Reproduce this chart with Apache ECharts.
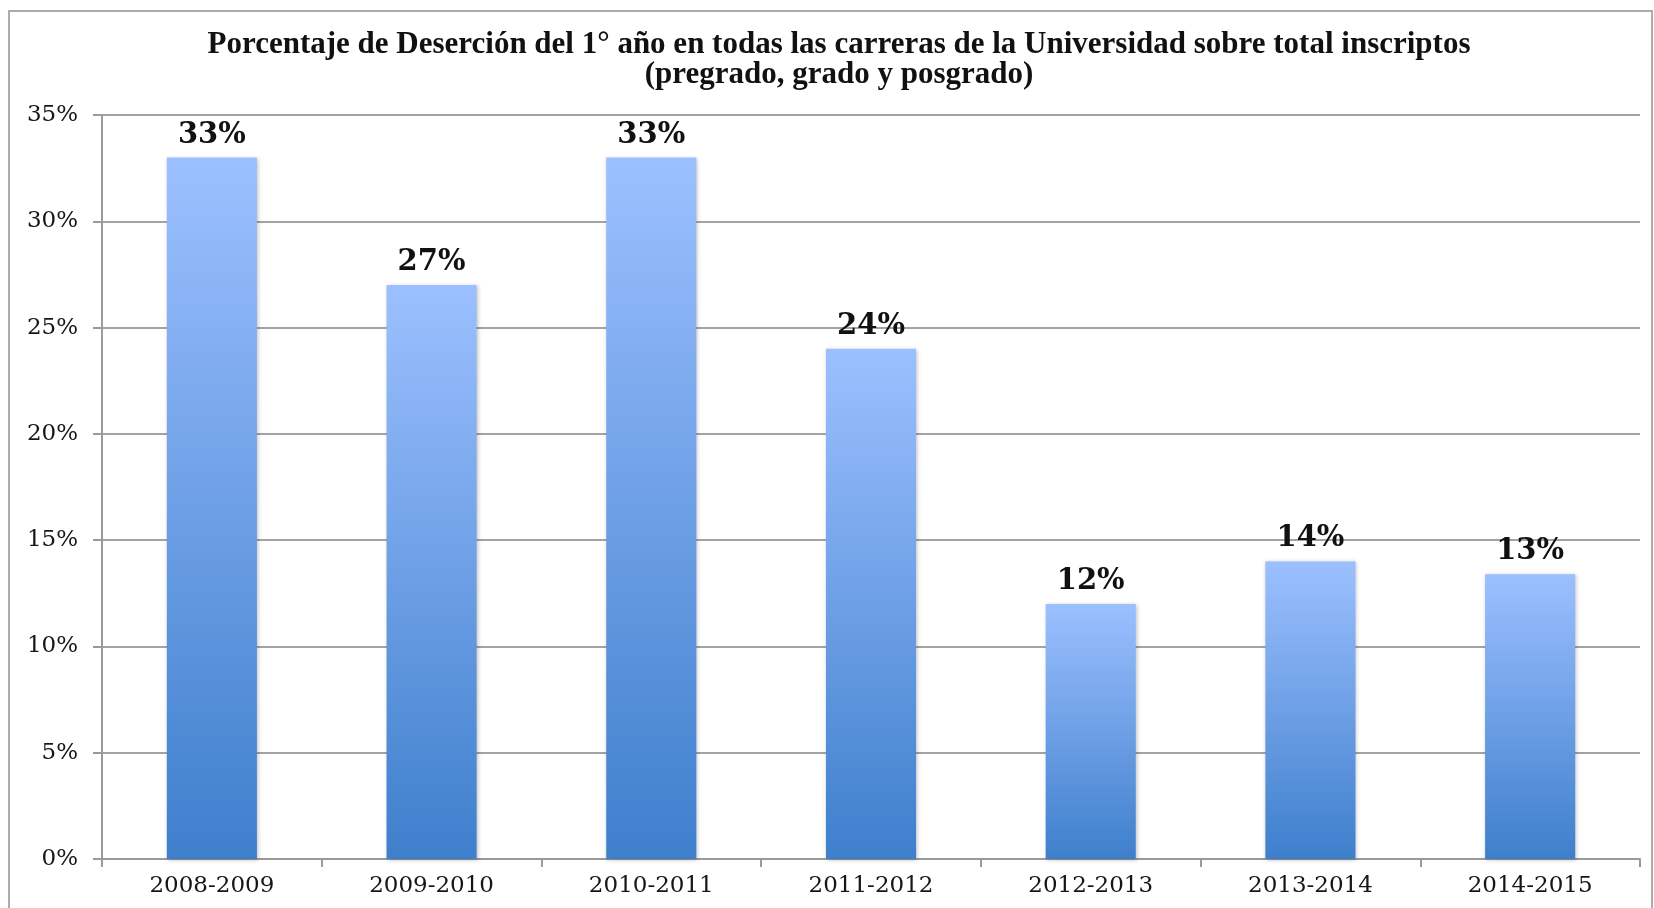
<!DOCTYPE html>
<html>
<head>
<meta charset="utf-8">
<script src="https://cdn.jsdelivr.net/npm/echarts@6/dist/echarts.min.js"></script>
<style>
  html, body { margin: 0; padding: 0; background: #fff; }
  #chart { width: 1654px; height: 908px; }
</style>
</head>
<body>
<div id="chart"></div>
<script>
  // periodos y porcentaje de desercion
  const periodos = ['2008-2009', '2009-2010', '2010-2011', '2011-2012', '2012-2013', '2013-2014', '2014-2015'];
  const desercion = [33, 27, 33, 24, 12, 14, 13.4];
  const yTicks = [0, 5, 10, 15, 20, 25, 30, 35];

  const myChart = echarts.init(document.getElementById('chart'));
  let option = {
    animation: false,
    title: {
      text: 'Porcentaje de Deserción del 1° año en todas las carreras de la Universidad sobre total inscriptos\n(pregrado, grado y posgrado)',
      left: 834,
      top: 25,
      textAlign: 'center',
      textStyle: {
        fontFamily: 'Liberation Serif',
        fontWeight: 'bold',
        fontSize: 31,
        lineHeight: 30,
        color: '#111'
      }
    },
    graphic: [{
      type: 'rect',
      shape: { x: 9, y: 11, width: 1643, height: 940 },
      style: { fill: 'none', stroke: '#ababab', lineWidth: 2 },
      silent: true
    }],
    grid: {
      left: 102,
      right: 14,
      top: 115,
      bottom: 49
    },
    xAxis: {
      type: 'category',
      data: periodos,
      axisLine: { lineStyle: { color: '#9a9a9a', width: 2 } },
      axisTick: { show: true, length: 8, lineStyle: { color: '#9a9a9a', width: 2 } },
      axisLabel: {
        fontFamily: 'DejaVu Serif',
        fontSize: 23,
        color: '#161616',
        margin: 16
      }
    },
    yAxis: {
      type: 'value',
      min: yTicks[0],
      max: yTicks[yTicks.length - 1],
      interval: 5,
      axisLine: { show: true, lineStyle: { color: '#9a9a9a', width: 2 } },
      axisTick: { show: true, length: 9, inside: false, lineStyle: { color: '#9a9a9a', width: 2 } },
      splitLine: { lineStyle: { color: '#a3a3a3', width: 2 } },
      axisLabel: {
        fontFamily: 'DejaVu Serif',
        fontSize: 23,
        color: '#161616',
        margin: 24,
        formatter: v => v + '%'
      }
    },
    series: [{
      type: 'bar',
      data: desercion,
      barWidth: '41%',
      itemStyle: {
        color: new echarts.graphic.LinearGradient(0, 0, 0, 1, [
          { offset: 0, color: '#9cc0ff' },
          { offset: 1, color: '#3e7fcc' }
        ]),
        shadowBlur: 4,
        shadowColor: 'rgba(0,0,0,0.25)',
        shadowOffsetX: 1,
        shadowOffsetY: 1
      },
      label: {
        show: true,
        position: 'top',
        distance: 8,
        fontFamily: 'DejaVu Serif',
        fontWeight: 'bold',
        fontSize: 29,
        color: '#111',
        formatter: p => Math.round(p.value) + '%'
      }
    }]
  };
  myChart.setOption(option);
</script>
</body>
</html>
